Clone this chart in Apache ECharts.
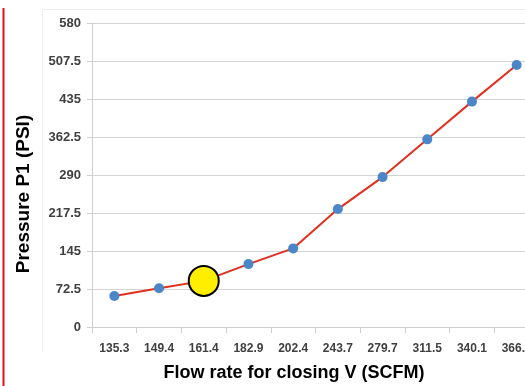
<!DOCTYPE html>
<html><head><meta charset="utf-8">
<script src="https://cdn.jsdelivr.net/npm/echarts@6/dist/echarts.min.js"></script>
<style>html,body{margin:0;padding:0;background:#fff}#c{width:525px;height:386px}</style>
</head><body><div id="c"></div>
<script>
var categories = ['135.3','149.4','161.4','182.9','202.4','243.7','279.7','311.5','340.1','366.1'];
var pressure = [59, 74, 88, 120, 150, 225, 286, 358, 430, 500];
var yTicks = [0, 72.5, 145, 217.5, 290, 362.5, 435, 507.5, 580];
var highlightIndex = 2;

var chart = echarts.init(document.getElementById('c'));
var seriesData = pressure.map(function(v, i){
  if (i === highlightIndex) {
    return {value: v, symbolSize: 30, itemStyle: {color: '#FFEE00', borderColor: '#000', borderWidth: 2}, z: 10};
  }
  return v;
});
chart.setOption({
  animation: false,
  grid: {left: 92, width: 447, top: 23, bottom: 59, containLabel: false, outerBoundsMode: 'none'},
  graphic: [
    {type: 'line', shape: {x1: 3.5, y1: 8, x2: 3.5, y2: 386}, style: {stroke: '#E0101A', lineWidth: 2}},
    {type: 'line', shape: {x1: 42, y1: 9.5, x2: 525, y2: 9.5}, style: {stroke: '#ececec', lineWidth: 1}},
    {type: 'line', shape: {x1: 42.5, y1: 9, x2: 42.5, y2: 352}, style: {stroke: '#f0f0f0', lineWidth: 1}},
    {type: 'text', x: 294, y: 373, style: {text: 'Flow rate for closing V (SCFM)', font: 'bold 18px Liberation Sans, Arial, sans-serif', fill: '#000', textAlign: 'center', textVerticalAlign: 'middle'}},
    {type: 'text', rotation: Math.PI / 2, x: 24, y: 194, style: {text: 'Pressure P1 (PSI)', font: 'bold 19px Liberation Sans, Arial, sans-serif', fill: '#000', textAlign: 'center', textVerticalAlign: 'middle'}}
  ],
  xAxis: {
    type: 'category', data: categories, boundaryGap: true,
    axisLine: {lineStyle: {color: '#cfcfcf', width: 1}},
    axisTick: {show: true, length: 6, lineStyle: {color: '#cfcfcf'}},
    axisLabel: {color: '#404040', fontSize: 12, fontWeight: 'bold', margin: 16, fontFamily: 'Liberation Sans, Arial, sans-serif', hideOverlap: false}
  },
  yAxis: {
    type: 'value', min: 0, max: 580, interval: 72.5,
    axisLine: {show: true, lineStyle: {color: '#cfcfcf'}},
    axisTick: {show: true, length: 5, lineStyle: {color: '#cfcfcf'}},
    splitLine: {lineStyle: {color: '#d4d4d4', width: 1}},
    axisLabel: {color: '#404040', fontSize: 13, fontWeight: 'bold', margin: 11, fontFamily: 'Liberation Sans, Arial, sans-serif',
      formatter: function(v){ return yTicks.indexOf(v) >= 0 ? String(v) : ''; }}
  },
  series: [{
    type: 'line', data: seriesData,
    symbol: 'circle', symbolSize: 10,
    itemStyle: {color: '#4A86C8'},
    lineStyle: {color: '#E0301E', width: 2}
  }]
});
</script></body></html>
